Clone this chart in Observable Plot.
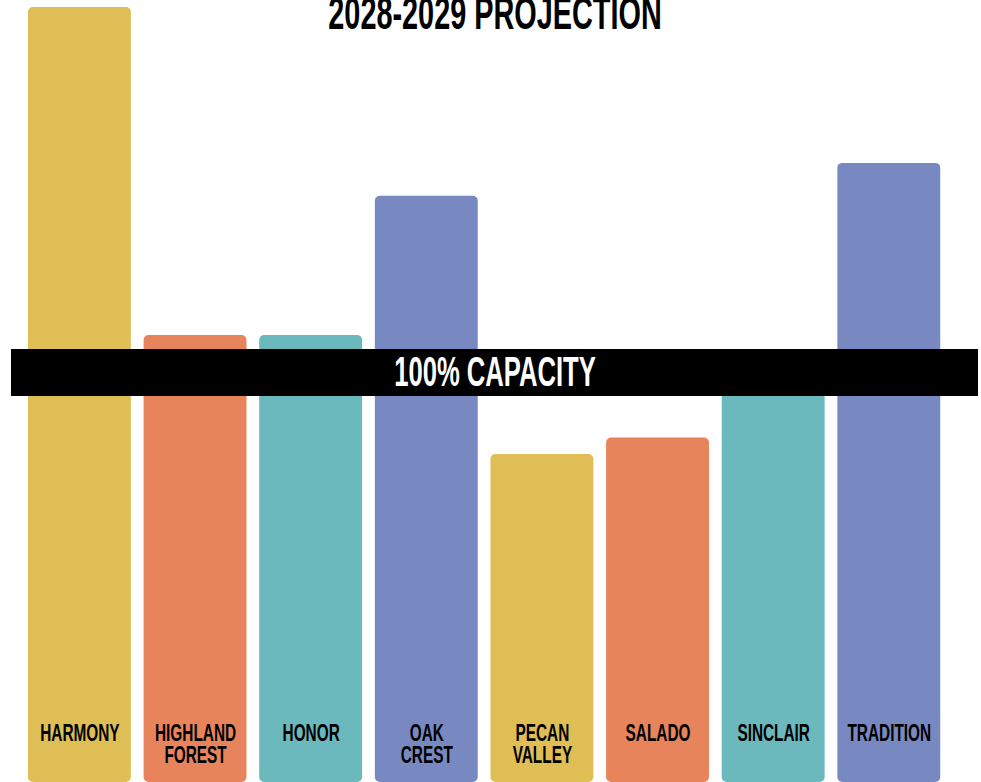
<!DOCTYPE html>
<html>
<head>
<meta charset="utf-8">
<script src="https://cdn.jsdelivr.net/npm/d3@7"></script>
<script src="https://cdn.jsdelivr.net/npm/@observablehq/plot@0.6"></script>
<style>
  html, body { margin: 0; padding: 0; background: #ffffff; overflow: hidden; }
  #chart svg { display: block; }
</style>
</head>
<body>
<div id="chart"></div>
<script>
// ---- data (percent of building capacity) ----
const schools = ["HARMONY", "HIGHLAND\nFOREST", "HONOR", "OAK\nCREST", "PECAN\nVALLEY", "SALADO", "SINCLAIR", "TRADITION"];
const capacityPct = [189, 109, 109, 143, 80, 84, 98, 151];
const barColors = ["#dfbe55", "#e8845c", "#6bb8bd", "#7889c2", "#dfbe55", "#e8845c", "#6bb8bd", "#7889c2"];
const titleText = "2028-2029 PROJECTION";
const capacityLabel = "100% CAPACITY";
const capacityLine = 100;

const data = schools.map((s, i) => ({school: s, pct: capacityPct[i]}));
const FONT = "'Liberation Sans', Arial, sans-serif";

const chart = Plot.plot({
  width: 981,
  height: 782,
  marginLeft: 11,
  marginRight: 3,
  marginTop: 0,
  marginBottom: 0,
  style: {fontFamily: FONT, background: "#ffffff"},
  x: {domain: schools, range: [21.6, 946.6], paddingInner: 0.11, paddingOuter: 0.055, round: false, axis: null},
  y: {domain: [0, 190], range: [782, 3], axis: null},
  color: {domain: schools, range: barColors},
  marks: [
    Plot.barY(data, {x: "school", y: "pct", fill: "school", rx: 5}),
    Plot.ruleY([capacityLine], {stroke: "#000000", strokeWidth: 47}),
    Plot.text([capacityLabel], {
      y: () => capacityLine, text: d => d, frameAnchor: "middle",
      lineAnchor: "middle", fill: "#ffffff", fontSize: 42, fontWeight: "bold", className: "squeeze band"
    }),
    Plot.text(data, {
      x: "school", y: () => 0, text: "school", lineAnchor: "top", dy: -57,
      fill: "#000000", fontSize: 24, fontWeight: "bold", lineHeight: 0.92, className: "squeeze label"
    }),
    Plot.text([titleText], {
      frameAnchor: "top", text: d => d, lineAnchor: "bottom", dy: 28,
      fill: "#000000", fontSize: 46, fontWeight: "bold", className: "squeeze title"
    })
  ]
});

document.getElementById("chart").appendChild(chart);

// condense the glyphs horizontally to mimic a tall condensed display face
chart.querySelectorAll("g.squeeze text").forEach(t => {
  const K = t.closest("g.title") ? 0.627 : (t.closest("g.label") ? 0.64 : 0.61);
  const spans = t.querySelectorAll("tspan");
  const targets = spans.length ? Array.from(spans) : [t];
  targets.forEach(el => {
    const w = el.getComputedTextLength();
    el.setAttribute("textLength", (w * K).toFixed(1));
    el.setAttribute("lengthAdjust", "spacingAndGlyphs");
  });
});
</script>
</body>
</html>
